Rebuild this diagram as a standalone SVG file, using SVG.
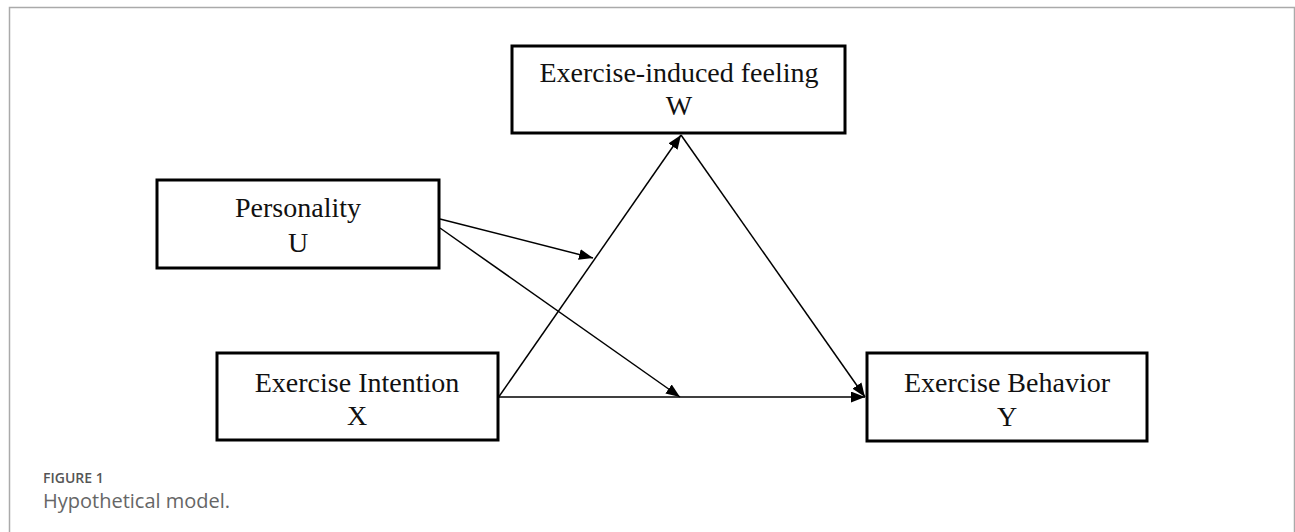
<svg xmlns="http://www.w3.org/2000/svg" width="1295" height="532" viewBox="0 0 1295 532">
<style>
.box{fill:#fff;stroke:#000;stroke-width:3}
.t{font-family:"Liberation Serif","Times New Roman",serif;font-size:28px;fill:#111;text-anchor:middle}
.c{fill:none;stroke:#000;stroke-width:1.5}
.cap1{font-family:"Open Sans","Noto Sans",sans-serif;font-size:14px;font-weight:600;fill:#555}
.cap2{font-family:"Open Sans","Noto Sans",sans-serif;font-size:20px;fill:#666}
</style>
<defs>
<marker id="ah" viewBox="0 0 14 11" refX="14" refY="5.5" markerWidth="14" markerHeight="11" markerUnits="userSpaceOnUse" orient="auto">
<path d="M0,0 L14,5.5 L0,11 Z" fill="#000"/>
</marker>
</defs>
<path d="M9.5,532 V7.5 H1294.5 V532" fill="none" stroke="#aaa" stroke-width="1.5"/>
<g id="connectors">
<line class="c" x1="498" y1="398" x2="681" y2="135" marker-end="url(#ah)"/>
<line class="c" x1="681" y1="135" x2="865" y2="397" marker-end="url(#ah)"/>
<line class="c" x1="498" y1="397" x2="865" y2="397" marker-end="url(#ah)"/>
<line class="c" x1="440" y1="219" x2="593" y2="258" marker-end="url(#ah)"/>
<line class="c" x1="440" y1="228" x2="680" y2="397" marker-end="url(#ah)"/>
</g>
<g id="W">
<rect class="box" x="512" y="46" width="333" height="87"/>
<text class="t" x="679" y="82">Exercise-induced feeling</text>
<text class="t" x="679" y="115">W</text>
</g>
<g id="U">
<rect class="box" x="157" y="180" width="282" height="88"/>
<text class="t" x="298" y="217">Personality</text>
<text class="t" x="298" y="252">U</text>
</g>
<g id="X">
<rect class="box" x="217" y="353" width="281" height="87"/>
<text class="t" x="357" y="392">Exercise Intention</text>
<text class="t" x="357" y="425">X</text>
</g>
<g id="Y">
<rect class="box" x="867" y="353" width="280" height="88"/>
<text class="t" x="1007" y="392">Exercise Behavior</text>
<text class="t" x="1007" y="426">Y</text>
</g>
<text class="cap1" x="43" y="483">FIGURE 1</text>
<text class="cap2" x="43" y="508">Hypothetical model.</text>
</svg>
